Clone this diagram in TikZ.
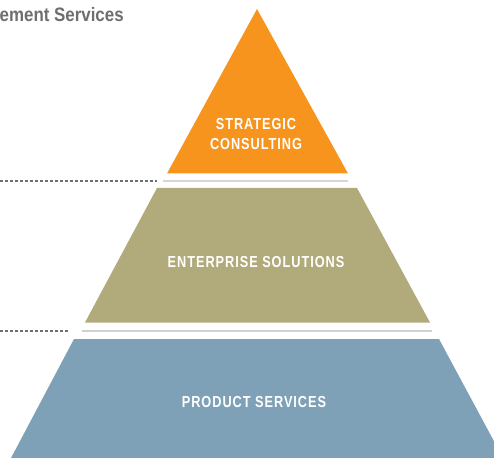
\documentclass[tikz,border=0pt]{standalone}
\usepackage{fontspec}
\setmainfont{Liberation Sans}
\newfontfamily\labfont[FakeStretch=0.8,LetterSpace=6]{Liberation Sans}
\newfontfamily\headfont[FakeStretch=0.87]{Liberation Sans}
\definecolor{pyorange}{HTML}{F7941E}
\definecolor{pyolive}{HTML}{B1AA7B}
\definecolor{pyblue}{HTML}{7FA1B7}
\definecolor{pydark}{HTML}{6D6E71}
\definecolor{pysep}{HTML}{D6D6D6}
\definecolor{pysepb}{HTML}{CDD1D5}
\tikzset{
  layerlabel/.style={text=white, inner sep=0pt, align=center,
    font=\labfont\bfseries\fontsize{16}{20}\selectfont},
  leader/.style={pydark, line width=1.2bp, dash pattern=on 3bp off 2bp},
  sepline/.style={line width=1.5bp},
}
\begin{document}
\begin{tikzpicture}[x=1bp,y=-1bp]
\useasboundingbox (0,0) rectangle (494,458);
% layers
\fill[pyorange] (257,9) -- (348,173.5) -- (167,173.5) -- cycle;
\fill[pyolive] (157,188) -- (357,188) -- (430,322.5) -- (85,322.5) -- cycle;
\fill[pyblue] (74,339) -- (439,339) -- (503,458) -- (11,458) -- cycle;
% separators
\coordinate (s1l) at (163,181);
\coordinate (s1r) at (348,181);
\coordinate (s2l) at (81.5,331);
\coordinate (s2r) at (432,331);
\draw[sepline, pysep] (s1l) -- (s1r);
\draw[sepline, pysepb] (s2l) -- (s2r);
% leaders
\coordinate (d1a) at (0,181);
\coordinate (d1b) at (157,181);
\coordinate (d2a) at (0,331);
\coordinate (d2b) at (69,331);
\draw[leader] (d1a) -- (d1b);
\draw[leader] (d2a) -- (d2b);
% labels
\node[layerlabel] (strat) at (256,134) {STRATEGIC\\CONSULTING};
\node[layerlabel] (ent) at (256,262.5) {ENTERPRISE SOLUTIONS};
\node[layerlabel] (prod) at (254,402.5) {PRODUCT SERVICES};
\node[anchor=base west, inner sep=0pt, text=pydark,
  font=\headfont\bfseries\fontsize{19.5}{22}\selectfont] (head) at (-0.5,21.7) {ement Services};
\end{tikzpicture}
\end{document}
